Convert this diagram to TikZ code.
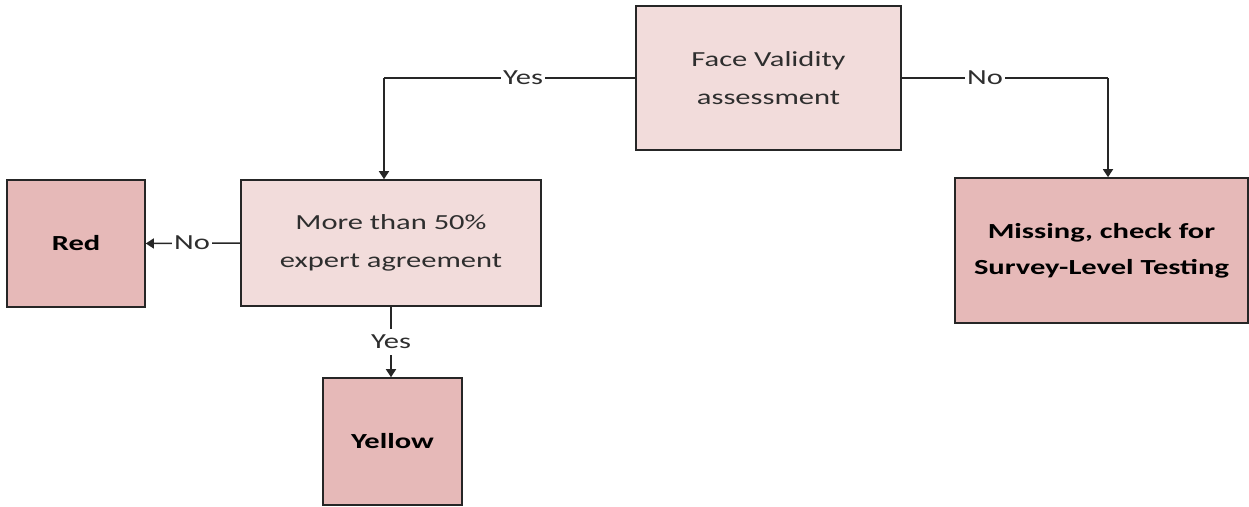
\documentclass[tikz,border=0pt]{standalone}
\usepackage{fontspec}
\setmainfont[FakeStretch=1.42]{Carlito}
\usetikzlibrary{arrows.meta}
\definecolor{paleRose}{HTML}{F2DCDB}
\definecolor{deepRose}{HTML}{E6B9B8}
\definecolor{inkGray}{HTML}{2E2E2E}
\definecolor{edgeGray}{HTML}{262626}
\tikzset{
  boxbase/.style={draw=edgeGray, line width=1.6pt, align=center, inner sep=0pt,
    font=\fontsize{21.5}{38}\selectfont},
  question/.style={boxbase, fill=paleRose, text=inkGray},
  outcome/.style={boxbase, fill=deepRose, text=black, font=\fontsize{21.5}{36}\selectfont\bfseries},
  link/.style={draw=edgeGray, line width=1.5pt, -{Triangle[width=10pt,length=8pt]}},
  plain/.style={draw=edgeGray, line width=1.5pt},
  lbl/.style={fill=white, text=inkGray, inner xsep=2.5pt, inner ysep=1pt,
    font=\fontsize{21.5}{24}\selectfont},
}
\begin{document}
\begin{tikzpicture}[x=1pt, y=-1pt]
\useasboundingbox (0,0) rectangle (1249,506);

% decision boxes
\node[question, minimum width=265pt, minimum height=144pt] (face) at (768.5,78)
  {Face Validity\\assessment};
\node[question, minimum width=300pt, minimum height=126pt] (more) at (391,243)
  {More than 50\%\\expert agreement};

% outcome boxes
\node[outcome, minimum width=138pt, minimum height=127pt] (red) at (76,243.5) {Red};
\node[outcome, minimum width=139pt, minimum height=127pt] (yellow) at (392.5,441.5) {Yellow};
\node[outcome, minimum width=293pt, minimum height=145pt] (missing) at (1101.5,250.5)
  {Missing, check for\\Survey-Level Testing};

% turning points of the elbow connectors
\coordinate (yesturn) at (384,78);
\coordinate (noturn) at (1108,78);

% connectors
\draw[plain] (face.west) -- (yesturn);
\draw[link] (yesturn) -- (yesturn |- more.north);
\node[lbl] at (523,78) {Yes};

\draw[plain] (face.east) -- (noturn);
\draw[link] (noturn) -- (noturn |- missing.north);
\node[lbl] at (985,78) {No};

\draw[link] (more.west) -- (red.east);
\node[lbl] at (192,243) {No};

\draw[link] (more.south) -- node[lbl, inner ysep=6pt] {Yes} (yellow.north -| more.south);
\end{tikzpicture}
\end{document}
